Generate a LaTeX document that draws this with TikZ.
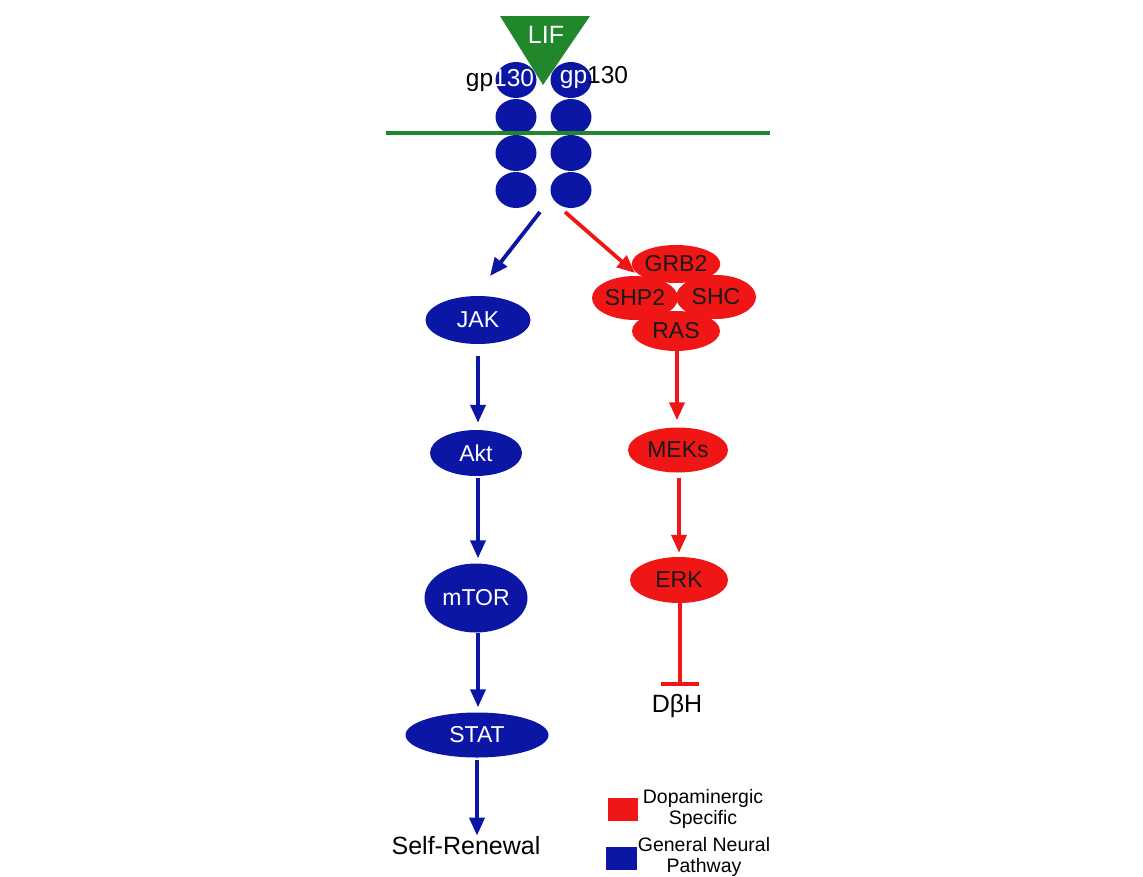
\documentclass[tikz,border=0pt]{standalone}
\usepackage{fontspec}
\setmainfont{Liberation Sans}
\usetikzlibrary{shapes.geometric,arrows.meta}
\definecolor{pblue}{RGB}{12,22,165}
\definecolor{pred}{RGB}{240,22,22}
\definecolor{pgreen}{RGB}{32,135,42}
\tikzset{
  bnode/.style={ellipse,fill=pblue,text=white,inner sep=0pt,font=\fontsize{23}{25}\selectfont},
  rnode/.style={ellipse,fill=pred,text=black!90,inner sep=0pt,font=\fontsize{23}{25}\selectfont},
  gpcirc/.style={ellipse,fill=pblue,inner sep=0pt,minimum width=41pt,minimum height=36pt},
  barr/.style={draw=pblue,line width=3.8pt,-{Triangle[length=18pt,width=15pt]}},
  rarr/.style={draw=pred,line width=3.8pt,-{Triangle[length=18pt,width=15pt]}},
  rinh/.style={draw=pred,line width=3.8pt,-{Bar[width=38pt]}},
  lbl/.style={text=black,inner sep=0pt,font=\fontsize{25}{27}\selectfont},
  legtxt/.style={text=black,inner sep=0pt,align=center,font=\fontsize{19.5}{21}\selectfont}
}
\begin{document}
\begin{tikzpicture}[x=1pt,y=-1pt]
\useasboundingbox (0,0) rectangle (1143,876);
% receptor circles
\foreach \r/\yy in {1/80,2/117,3/153,4/190}{
  \node[gpcirc] (l\r) at (516,\yy) {};
  \node[gpcirc] (r\r) at (571,\yy) {};
}
% membrane
\coordinate (m1) at (386,133);
\coordinate (m2) at (770,133);
\draw[pgreen,line width=3.5pt] (m1) -- (m2);
% LIF
\fill[pgreen] (500,16) -- (590,16) -- (543,85) -- cycle;
\node[text=white,inner sep=0pt,font=\fontsize{25}{27}\selectfont] (lif) at (546,35) {LIF};
% gp130 labels
\node[inner sep=0pt,font=\fontsize{24.5}{27}\selectfont] (gpl) at (500,80) {{\color{black}gp}{\color{white}130}};
\node[inner sep=0pt,font=\fontsize{24.5}{27}\selectfont] (gpr) at (594,77) {{\color{white}gp}{\color{black}130}};
% blue pathway
\node[bnode,minimum width=105pt,minimum height=48pt] (jak) at (478,320) {JAK};
\node[bnode,minimum width=92pt,minimum height=46pt] (akt) at (476,453) {Akt};
\node[bnode,minimum width=103pt,minimum height=69pt] (mtor) at (476,598) {mTOR};
\node[bnode,minimum width=143pt,minimum height=45pt] (stat) at (477,735) {STAT};
\node[lbl] (self) at (466,846) {Self-Renewal};
% red cluster
\node[rnode,minimum width=88pt,minimum height=38pt] (grb) at (676,264) {GRB2};
\node[rnode,minimum width=86pt,minimum height=44pt] (shp) at (635,298) {SHP2};
\node[rnode,minimum width=80pt,minimum height=44pt] (shc) at (716,297) {SHC};
\node[rnode,minimum width=88pt,minimum height=40pt] (ras) at (676,331) {RAS};
\node[rnode,minimum width=100pt,minimum height=45pt] (mek) at (678,450) {MEKs};
\node[rnode,minimum width=98pt,minimum height=46pt] (erk) at (679,580) {ERK};
\node[lbl] (dbh) at (677,706) {DβH};
% connectors from receptor
\coordinate (bs) at (540,212);
\coordinate (be) at (490,276);
\coordinate (rs) at (565,212);
\coordinate (re) at (635,273);
\draw[barr] (bs) -- (be);
\draw[rarr] (rs) -- (re);
\draw[barr,shorten <=12pt,shorten >=7pt] (jak.south -| 478,0) -- (akt.north -| 478,0);
\draw[barr,shorten <=2pt,shorten >=5pt] (akt.south -| 478,0) -- (mtor.north -| 478,0);
\draw[barr,shorten >=5pt] (mtor.south -| 478,0) -- (stat.north -| 478,0);
\draw[barr,shorten <=2pt,shorten >=1pt] (stat.south -| 477,0) -- (self.north -| 477,0);
\draw[rarr,shorten >=7pt] (ras.south -| 677,0) -- (mek.north -| 677,0);
\draw[rarr,shorten <=5pt,shorten >=4pt] (mek.south -| 679,0) -- (erk.north -| 679,0);
\draw[rinh,shorten >=8pt] (erk.south -| 680,0) -- (dbh.north -| 680,0);
% legend
\node[fill=pred,minimum width=30pt,minimum height=23pt,inner sep=0pt] (lr) at (623,809) {};
\node[fill=pblue,minimum width=31pt,minimum height=23pt,inner sep=0pt] (lb) at (621,858) {};
\node[legtxt] (ltr) at (703,809) {Dopaminergic\\Specific};
\node[legtxt] (ltb) at (704,857) {General Neural\\Pathway};
\end{tikzpicture}
\end{document}
